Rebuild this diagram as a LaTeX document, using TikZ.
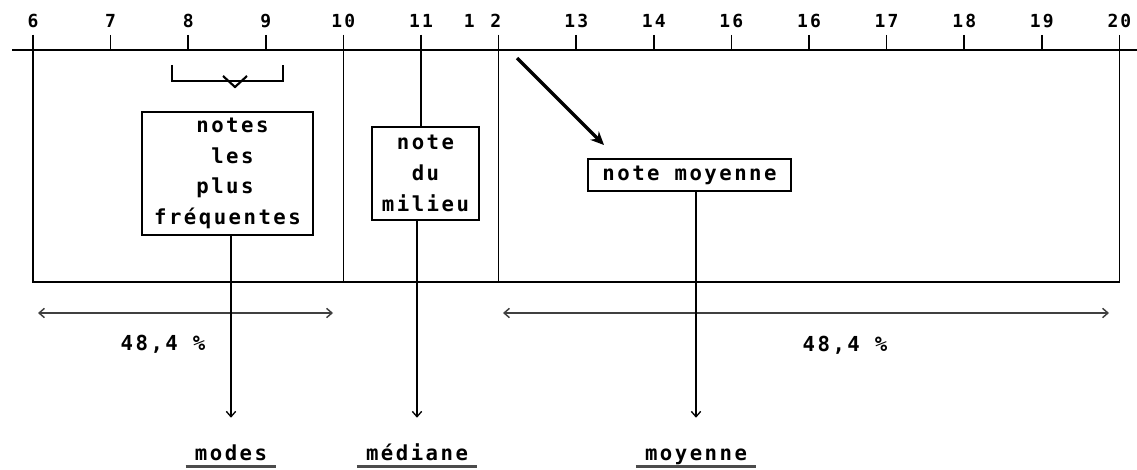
\documentclass[tikz,border=0pt]{standalone}
\usepackage{fontspec}
\newfontfamily\dotfont{DejaVu Sans Mono}[LetterSpace=12]
\usetikzlibrary{arrows.meta, positioning, calc}

\tikzset{
  frame/.style={line width=1.2pt},
  ticklab/.style={font=\dotfont\bfseries\fontsize{13.5}{15}\selectfont},
  notebox/.style={draw, line width=1.2pt, align=left, inner sep=0pt,
    font=\dotfont\bfseries\fontsize{15.5}{23}\selectfont},
  pct/.style={font=\dotfont\bfseries\fontsize{15.5}{17}\selectfont},
  meanlab/.style={font=\dotfont\bfseries\fontsize{15.5}{17}\selectfont,
    text height=11pt, text depth=3pt, inner xsep=6.75pt, inner ysep=1.75pt},
  uline/.style={line width=2.2pt, black!70},
  down/.style={->, line width=1pt, shorten >=19pt},
}

\begin{document}
\begin{tikzpicture}[x=0.75pt, y=-0.75pt, >={Straight Barb[length=4pt,width=7pt]}]
\useasboundingbox (0,0) rectangle (1137,470);

% scale of the marks
\coordinate (axL) at (12,50);
\coordinate (axR) at (1137,50);
\coordinate (bot) at (0,282);
\draw[frame] (axL) -- (axR);
\foreach \n in {6,...,20}
  \coordinate (t\n) at ({33+77.6*(\n-6)},35);
\foreach \n in {6,...,20}
  \draw[frame] (t\n) -- (t\n |- axL);
\foreach \n/\lab in {6/6,7/7,8/8,9/9,10/10,11/11,13/13,14/14,15/16,16/16,17/17,18/18,19/19,20/20}
  \node[ticklab] (l\n) at (t\n |- 0,21) {\lab};
\node[ticklab, xshift=-12pt] (l12) at (t12 |- 0,21) {1\hspace{2pt} 2};

% frame of the distribution
\draw[frame] (t6) -- (t6 |- bot) -- (t20 |- bot) -- (t20);
\draw[frame] (t10) -- (t10 |- bot);
\draw[frame] (t12) -- (t12 |- bot);

% bracket over 8 - 9
\draw[line width=1.6pt] (172,65) -- (172,81) -- (283,81) -- (283,65);
\draw[line width=1.6pt] (223,76) -- (235,87) -- (247,76);

% the three boxes
\node[notebox, minimum width=128pt, minimum height=92pt] (freq) at (227.5,173.5)
  {\phantom{nnn}notes\\\phantom{nnnn}les\\\phantom{nnn}plus\\fréquentes};
\node[notebox, align=center, minimum width=80pt, minimum height=70pt] (milieu) at (425.5,173.5)
  {note\\du\\milieu};
\node[notebox, minimum width=152pt, minimum height=24pt] (moy) at (689.5,175) {note moyenne};
\draw[frame] (t11) -- (milieu.north -| t11);

% arrow to the mean
\coordinate (dA) at (517,58);
\coordinate (dB) at (604,145);
\draw[line width=2.4pt, -{Stealth[length=10pt,width=9pt]}] (dA) -- (dB);

% 48,4 % on each side
\coordinate (pL1) at (38,313);
\coordinate (pL2) at (333,313);
\coordinate (pR1) at (503,313);
\coordinate (pR2) at (1109,313);
\draw[<->, line width=1.1pt, black!75] (pL1) -- (pL2);
\draw[<->, line width=1.1pt, black!75] (pR1) -- (pR2);
\node[pct] (pctL) at (163,344) {48,4 \%};
\node[pct] (pctR) at (845,345) {48,4 \%};

% names of the three values
\node[meanlab] (modes) at (231,455) {modes};
\node[meanlab] (mediane) at (417,455) {médiane};
\node[meanlab] (moyenne) at (696,455) {moyenne};
\draw[down] (freq.south -| modes) -- (modes.north);
\draw[down] (milieu.south -| mediane) -- (mediane.north);
\draw[down] (moy.south -| moyenne) -- (moyenne.north);
\foreach \w in {modes,mediane,moyenne}
  \draw[uline] (\w.south west) -- (\w.south east);
\end{tikzpicture}
\end{document}
